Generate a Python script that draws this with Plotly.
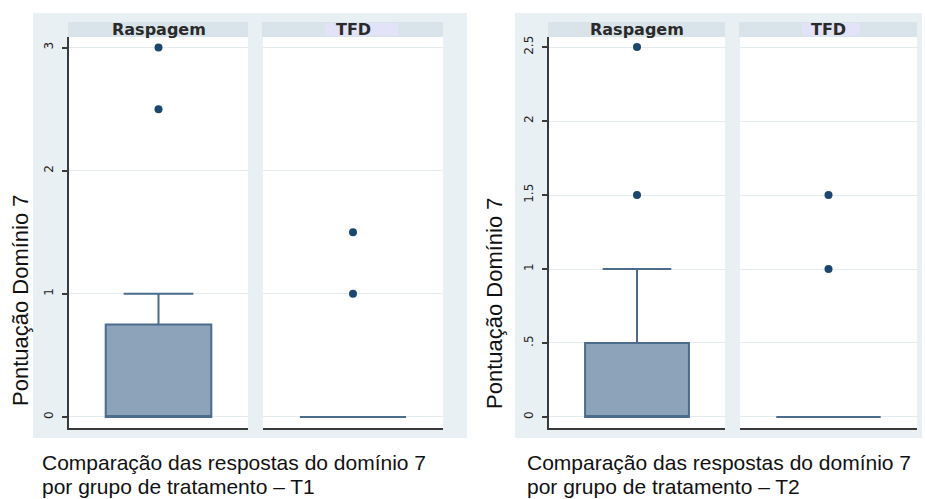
import plotly.graph_objects as go

# ---------------- data ----------------
groups = ["Raspagem", "TFD"]

t1_q1 = [0, 0]
t1_median = [0, 0]
t1_q3 = [0.75, 0]
t1_lowerfence = [0, 0]
t1_upperfence = [1, 0]
t1_outliers_raspagem = [2.5, 3]
t1_outliers_tfd = [1, 1.5]

t2_q1 = [0, 0]
t2_median = [0, 0]
t2_q3 = [0.5, 0]
t2_lowerfence = [0, 0]
t2_upperfence = [1, 0]
t2_outliers_raspagem = [1.5, 2.5]
t2_outliers_tfd = [1, 1.5]

t1_tickvals = [0, 1, 2, 3]
t1_ticktext = ["0", "1", "2", "3"]
t2_tickvals = [0, 0.5, 1, 1.5, 2, 2.5]
t2_ticktext = ["0", ".5", "1", "1.5", "2", "2.5"]

y_title = "Pontuação Domínio 7"
caption_line1 = "Comparação das respostas do domínio 7"
caption_t1 = "por grupo de tratamento – T1"
caption_t2 = "por grupo de tratamento – T2"

# ---------------- layout helpers ----------------
W, H = 925, 499


def px(x):
    return x / W


def py(y):
    return 1 - y / H


BG = "#E9F0F3"
STRIP = "#D9E4EA"
LAV = "#E2E2F8"
GRID = "#E4ECF0"
BOX_FILL = "#8DA3B9"
BOX_LINE = "#4B6C8D"
DOT = "#1A476F"
AXIS = "#3A3A3A"

plot_top, plot_bot = 37, 428
panels = [  # (x0, x1) in pixels for each subplot
    (69, 248), (263, 443), (549, 725), (740, 917)
]

fig = go.Figure()

sets = [
    (t1_q1, t1_median, t1_q3, t1_lowerfence, t1_upperfence,
     [t1_outliers_raspagem, t1_outliers_tfd]),
    (t2_q1, t2_median, t2_q3, t2_lowerfence, t2_upperfence,
     [t2_outliers_raspagem, t2_outliers_tfd]),
]

for s, (q1, med, q3, lf, uf, outs) in enumerate(sets):
    for g in range(2):
        idx = s * 2 + g + 1
        xa = "x" if idx == 1 else f"x{idx}"
        ya = "y" if idx == 1 else f"y{idx}"
        fig.add_trace(go.Box(
            x=[0], q1=[q1[g]], median=[med[g]], q3=[q3[g]],
            lowerfence=[lf[g]], upperfence=[uf[g]],
            width=0.59, whiskerwidth=0.66,
            fillcolor=BOX_FILL, line=dict(color=BOX_LINE, width=2),
            boxpoints=False, name=groups[g], showlegend=False,
            xaxis=xa, yaxis=ya, hoverinfo="skip",
        ))
        fig.add_trace(go.Scatter(
            x=[0] * len(outs[g]), y=outs[g], mode="markers",
            marker=dict(color=DOT, size=8),
            showlegend=False, xaxis=xa, yaxis=ya, hoverinfo="skip",
        ))

ydom = [py(plot_bot), py(plot_top)]
layout_axes = {}
for i, (x0, x1) in enumerate(panels):
    idx = i + 1
    xk = "xaxis" if idx == 1 else f"xaxis{idx}"
    yk = "yaxis" if idx == 1 else f"yaxis{idx}"
    ya_name = "y" if idx == 1 else f"y{idx}"
    xa_name = "x" if idx == 1 else f"x{idx}"
    t1 = idx <= 2
    first = idx in (1, 3)
    layout_axes[xk] = dict(
        domain=[px(x0), px(x1)], range=[-0.5, 0.5], anchor=ya_name,
        showgrid=False, zeroline=False, showticklabels=False, ticks="",
        showline=True, linecolor=AXIS, linewidth=2, fixedrange=True,
    )
    layout_axes[yk] = dict(
        domain=ydom, anchor=xa_name,
        range=[-0.09, 3.086] if t1 else [-0.0745, 2.568],
        tickvals=t1_tickvals if t1 else t2_tickvals,
        ticktext=t1_ticktext if t1 else t2_ticktext,
        showgrid=True, gridcolor=GRID, gridwidth=1, zeroline=False,
        showline=first, linecolor=AXIS, linewidth=2,
        ticks="outside" if first else "", ticklen=5, tickwidth=1.5,
        tickcolor=AXIS, showticklabels=first, tickangle=-90,
        ticklabelstandoff=4,
        tickfont=dict(family="DejaVu Sans", size=12, color="#222"),
        fixedrange=True,
    )

shapes = []
# outer graph-region backgrounds
for (a, b) in [(33, 467), (515, 922)]:
    shapes.append(dict(type="rect", xref="paper", yref="paper", layer="below",
                       x0=px(a), x1=px(b), y0=py(438), y1=py(13),
                       fillcolor=BG, line=dict(width=0)))
# white plot regions and strips
for (x0, x1) in panels:
    shapes.append(dict(type="rect", xref="paper", yref="paper", layer="below",
                       x0=px(x0), x1=px(x1), y0=py(plot_bot), y1=py(plot_top),
                       fillcolor="white", line=dict(width=0)))
    shapes.append(dict(type="rect", xref="paper", yref="paper", layer="below",
                       x0=px(x0 - 1), x1=px(x1), y0=py(plot_top), y1=py(22),
                       fillcolor=STRIP, line=dict(width=0)))
# lavender highlight behind TFD labels
for (a, b) in [(325, 398), (802, 860)]:
    shapes.append(dict(type="rect", xref="paper", yref="paper", layer="below",
                       x0=px(a), x1=px(b), y0=py(36), y1=py(23),
                       fillcolor=LAV, line=dict(width=0)))

annotations = []
for i, (x0, x1) in enumerate(panels):
    annotations.append(dict(
        text=groups[i % 2], xref="paper", yref="paper",
        x=px((x0 + x1) / 2), y=py(29.5), xanchor="center", yanchor="middle",
        showarrow=False,
        font=dict(family="DejaVu Sans", size=16, color="#2a2a2a", weight="bold"),
    ))

for (xc, yc) in [(20, 300), (494, 303)]:
    annotations.append(dict(
        text=y_title, xref="paper", yref="paper", x=px(xc), y=py(yc),
        xanchor="center", yanchor="middle", textangle=-90, showarrow=False,
        font=dict(family="Liberation Sans, Arial", size=22, color="#111"),
    ))

for (xl, l2) in [(40, caption_t1), (525, caption_t2)]:
    annotations.append(dict(
        text=caption_line1, xref="paper", yref="paper", x=px(xl), y=py(462),
        xanchor="left", yanchor="middle", showarrow=False,
        font=dict(family="Liberation Sans, Arial", size=21, color="#111"),
    ))
    annotations.append(dict(
        text=l2, xref="paper", yref="paper", x=px(xl), y=py(486),
        xanchor="left", yanchor="middle", showarrow=False,
        font=dict(family="Liberation Sans, Arial", size=21, color="#111"),
    ))

fig.update_layout(
    width=W, height=H, margin=dict(l=0, r=0, t=0, b=0),
    paper_bgcolor="white", plot_bgcolor="rgba(0,0,0,0)",
    shapes=shapes, annotations=annotations, showlegend=False,
    **layout_axes,
)

fig.write_html("out.html", config={"displayModeBar": False},
               post_script="document.body.style.margin='0';")
